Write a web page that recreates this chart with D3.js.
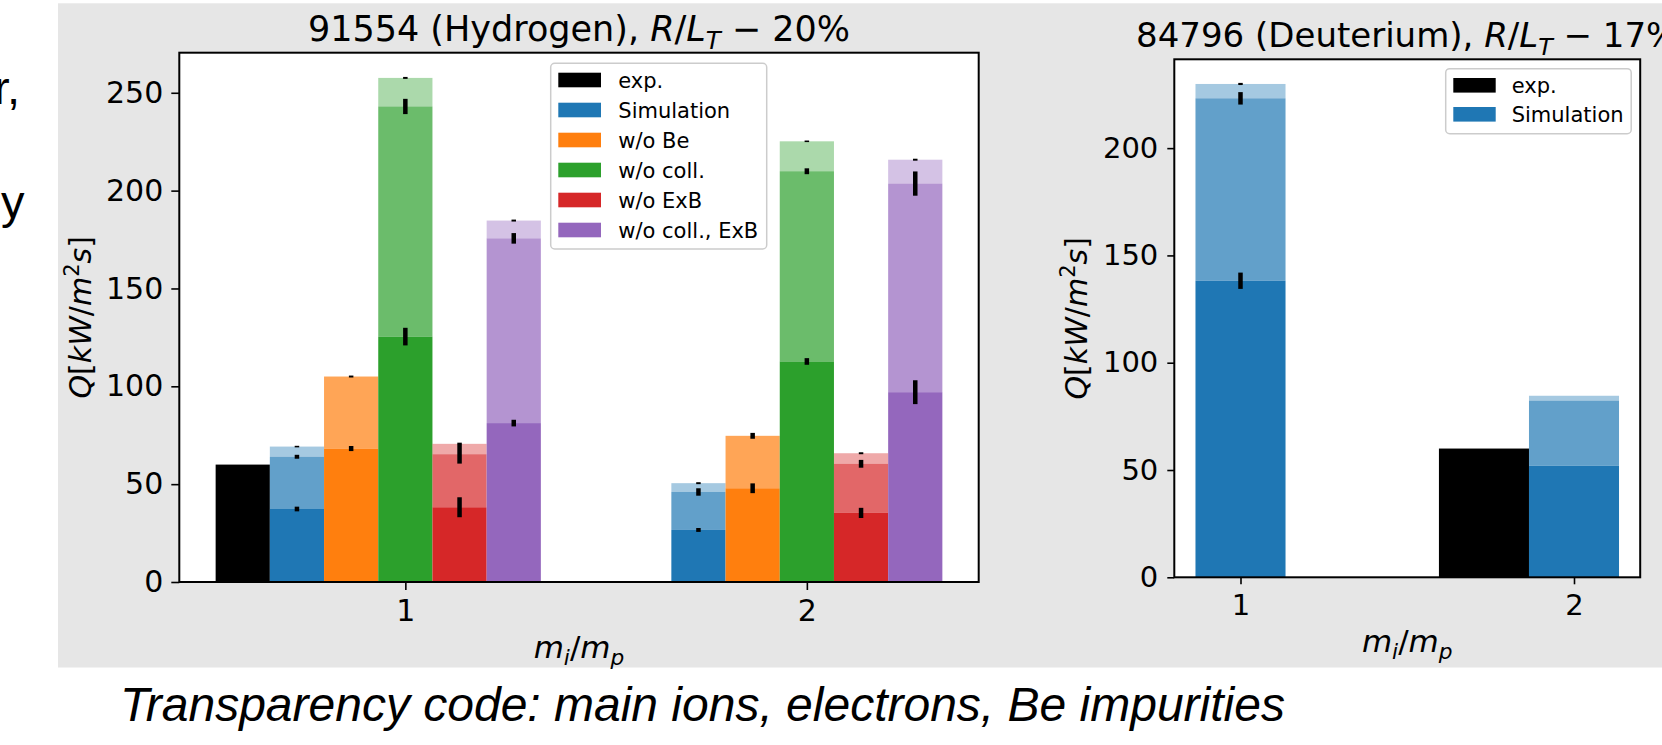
<!DOCTYPE html>
<html>
<head>
<meta charset="utf-8">
<script src="https://cdn.jsdelivr.net/npm/d3@7"></script>
<style>
  body { margin: 0; background: #ffffff; }
  svg { display: block; }
  text { font-family: "DejaVu Sans", sans-serif; fill: #000; }
</style>
</head>
<body>
<svg id="fig" width="1662" height="745"></svg>
<script>
// ---------------------------------------------------------------
// Heat flux Q [kW/m^2 s] versus mass ratio m_i/m_p.
// Each simulated bar is a stack: main ions, electrons, Be impurities.
// ---------------------------------------------------------------
const massRatio = [1, 2];
const layerNames = ["main ions", "electrons", "Be impurities"];
const layerAlpha = [1.0, 0.7, 0.4];

const seriesNames = ["exp.", "Simulation", "w/o Be", "w/o coll.", "w/o ExB", "w/o coll., ExB"];
const seriesColors = ["#000000", "#1f77b4", "#ff7f0e", "#2ca02c", "#d62728", "#9467bd"];

// 91554 (Hydrogen): per mass ratio, [ions, electrons, Be] contributions
const hExp = [[60.0], null];
const hSimulation = [[37.3, 26.7, 5.2], [26.6, 19.4, 4.5]];
const hWithoutBe = [[68.2, 36.8], [47.9, 26.8]];
const hWithoutColl = [[125.4, 117.6, 14.6], [112.7, 97.2, 15.3]];
const hWithoutExB = [[38.2, 27.1, 5.3], [35.3, 25.1, 5.4]];
const hWithoutCollExB = [[81.2, 94.4, 9.1], [97.0, 106.6, 12.2]];

// half-widths of the error bars drawn at the top of each layer
const hExpErr = [[0], null];
const hSimulationErr = [[1.2, 1.0, 0.4], [1.0, 1.9, 0.5]];
const hWithoutBeErr = [[1.3, 0.5], [2.5, 1.5]];
const hWithoutCollErr = [[4.5, 3.9, 0.5], [1.7, 1.5, 0.4]];
const hWithoutExBErr = [[5.1, 4.8, 0.6], [2.6, 2.0, 0.5]];
const hWithoutCollExBErr = [[1.7, 2.7, 0.5], [6.1, 6.2, 0.5]];

// 84796 (Deuterium)
const dExp = [null, [60.0]];
const dSimulation = [[138.2, 85.0, 6.7], [52.0, 30.3, 2.3]];
const dExpErr = [null, [0]];
const dSimulationErr = [[3.8, 2.9, 0.5], [0, 0, 0]];

const hTicksY = [0, 50, 100, 150, 200, 250];
const dTicksY = [0, 50, 100, 150, 200];

const svg = d3.select("#fig");

// figure background
svg.append("rect")
  .attr("x", 58).attr("y", 3.3)
  .attr("width", 1662 - 58).attr("height", 667.5 - 3.3)
  .attr("fill", "#e6e6e6");

// mathtext-like rich text built from tspans
function richText(sel, parts, size) {
  let shift = 0;
  parts.forEach(p => {
    const target = p.sub ? size * 0.24 : (p.sup ? -size * 0.4 : 0);
    const t = sel.append("tspan").attr("dy", target - shift).text(p.t);
    shift = target;
    if (p.it) t.attr("font-style", "italic");
    if (p.sub || p.sup) t.attr("font-size", size * 0.7);
  });
}

function drawPanel(p) {
  const g = svg.append("g");

  // data limits (matplotlib style: 5% x margin, 5% headroom)
  let lo = Infinity, hi = -Infinity, top = 0;
  p.series.forEach((s, i) => {
    s.values.forEach((v, j) => {
      if (v == null) return;
      const xc = massRatio[j] + p.offsets[i];
      lo = Math.min(lo, xc - p.barWidth / 2);
      hi = Math.max(hi, xc + p.barWidth / 2);
      top = Math.max(top, d3.sum(v));
    });
  });
  const pad = (hi - lo) * 0.05;
  const x = d3.scaleLinear().domain([lo - pad, hi + pad]).range([p.left, p.right]);
  const y = d3.scaleLinear().domain([0, top * 1.05]).range([p.bottom, p.top]);
  const bw = x(p.barWidth) - x(0);

  g.append("rect")
    .attr("x", p.left).attr("y", p.top)
    .attr("width", p.right - p.left).attr("height", p.bottom - p.top)
    .attr("fill", "#ffffff");

  // stacked layers
  const segs = [];
  p.series.forEach((s, i) => {
    s.values.forEach((v, j) => {
      if (v == null) return;
      const xc = massRatio[j] + p.offsets[i];
      let base = 0;
      v.forEach((val, k) => {
        segs.push({ xc, y0: base, y1: base + val, color: s.color,
                    alpha: s.single ? 1 : layerAlpha[k],
                    err: s.errors[j] ? s.errors[j][k] : 0 });
        base += val;
      });
    });
  });

  g.selectAll("rect.bar").data(segs).join("rect")
    .attr("class", "bar")
    .attr("x", d => x(d.xc) - bw / 2)
    .attr("width", bw)
    .attr("y", d => y(d.y1))
    .attr("height", d => y(d.y0) - y(d.y1))
    .attr("fill", d => d.color)
    .attr("fill-opacity", d => d.alpha);

  // error bars on top of the patches
  g.selectAll("line.err").data(segs.filter(d => d.err > 0)).join("line")
    .attr("class", "err")
    .attr("x1", d => x(d.xc)).attr("x2", d => x(d.xc))
    .attr("y1", d => y(d.y1 - d.err)).attr("y2", d => y(d.y1 + d.err))
    .attr("stroke", "#000").attr("stroke-width", 4.5);

  // axes
  const ya = g.append("g").attr("transform", `translate(${p.left},0)`)
    .call(d3.axisLeft(y).tickValues(p.yTicks).tickFormat(d3.format("d"))
      .tickSize(p.tickLen).tickPadding(p.yPad));
  const xa = g.append("g").attr("transform", `translate(0,${p.bottom})`)
    .call(d3.axisBottom(x).tickValues(massRatio).tickFormat(d3.format("d"))
      .tickSize(p.tickLen).tickPadding(p.xPad));
  [ya, xa].forEach(a => {
    a.select(".domain").remove();
    a.selectAll(".tick line").attr("stroke", "#000").attr("stroke-width", 1.6);
    a.selectAll(".tick text").attr("font-size", p.tickFont)
      .attr("font-family", "DejaVu Sans").attr("fill", "#000");
  });

  // frame
  g.append("rect")
    .attr("x", p.left).attr("y", p.top)
    .attr("width", p.right - p.left).attr("height", p.bottom - p.top)
    .attr("fill", "none").attr("stroke", "#000").attr("stroke-width", 2);

  // title
  const tt = g.append("text")
    .attr("x", (p.left + p.right) / 2).attr("y", p.titleBaseline)
    .attr("text-anchor", "middle").attr("font-size", p.titleFont);
  richText(tt, p.title, p.titleFont);

  // x label
  const xl = g.append("text")
    .attr("x", (p.left + p.right) / 2).attr("y", p.xLabelBaseline)
    .attr("text-anchor", "middle").attr("font-size", 31);
  richText(xl, [{ t: "m", it: 1 }, { t: "i", it: 1, sub: 1 }, { t: "/" },
                { t: "m", it: 1 }, { t: "p", it: 1, sub: 1 }], 31);

  // y label
  const cy = (p.top + p.bottom) / 2;
  const yl = g.append("text")
    .attr("transform", `translate(${p.yLabelX},${cy}) rotate(-90)`)
    .attr("text-anchor", "middle").attr("font-size", 30);
  richText(yl, [{ t: "Q", it: 1 }, { t: "[" }, { t: "kW", it: 1 }, { t: "/" },
                { t: "m", it: 1 }, { t: "2", sup: 1 }, { t: "s", it: 1 }, { t: "]" }], 30);

  // legend
  const L = p.legend;
  const lg = g.append("g");
  lg.append("rect")
    .attr("x", L.x).attr("y", L.y).attr("width", L.w).attr("height", L.h)
    .attr("rx", 4).attr("fill", "#ffffff").attr("fill-opacity", 0.8)
    .attr("stroke", "#cccccc").attr("stroke-width", 1.5);
  p.series.forEach((s, i) => {
    const cyRow = L.firstRow + i * L.rowGap;
    lg.append("rect")
      .attr("x", L.patchX).attr("y", cyRow - 7.3)
      .attr("width", L.patchW).attr("height", 14.6)
      .attr("fill", s.color);
    lg.append("text")
      .attr("x", L.textX).attr("y", cyRow + 7.6)
      .attr("font-size", 21).text(s.name);
  });
}

function makeSeries(names, colors, values, errors) {
  return names.map((n, i) => ({ name: n, color: colors[i], values: values[i],
                                errors: errors[i], single: i === 0 }));
}

// left panel: 91554 (Hydrogen)
const hW = 0.135;
drawPanel({
  left: 179.3, right: 978.7, top: 52.7, bottom: 582,
  series: makeSeries(seriesNames, seriesColors,
    [hExp, hSimulation, hWithoutBe, hWithoutColl, hWithoutExB, hWithoutCollExB],
    [hExpErr, hSimulationErr, hWithoutBeErr, hWithoutCollErr, hWithoutExBErr, hWithoutCollExBErr]),
  barWidth: hW,
  offsets: [-3, -2, -1, 0, 1, 2].map(k => k * hW),
  yTicks: hTicksY,
  tickLen: 8, yPad: 8, xPad: 10, tickFont: 30,
  title: [{ t: "91554 (Hydrogen), " }, { t: "R", it: 1 }, { t: "/" }, { t: "L", it: 1 },
          { t: "T", it: 1, sub: 1 }, { t: " \u2212 20%" }],
  titleFont: 35, titleBaseline: 41,
  xLabelBaseline: 658, yLabelX: 91,
  legend: { x: 550.7, y: 63.3, w: 216, h: 185.7, firstRow: 80, rowGap: 30,
            patchX: 558.3, patchW: 42.7, textX: 618.3 }
});

// right panel: 84796 (Deuterium)
const dW = 0.27;
drawPanel({
  left: 1174.3, right: 1640.2, top: 59.3, bottom: 577.3,
  series: makeSeries(seriesNames.slice(0, 2), seriesColors.slice(0, 2),
    [dExp, dSimulation], [dExpErr, dSimulationErr]),
  barWidth: dW,
  offsets: [-1, 0].map(k => k * dW),
  yTicks: dTicksY,
  tickLen: 7, yPad: 9, xPad: 10, tickFont: 29,
  title: [{ t: "84796 (Deuterium), " }, { t: "R", it: 1 }, { t: "/" }, { t: "L", it: 1 },
          { t: "T", it: 1, sub: 1 }, { t: " \u2212 17%" }],
  titleFont: 34, titleBaseline: 46.7,
  xLabelBaseline: 652, yLabelX: 1087,
  legend: { x: 1445.7, y: 68.7, w: 185.5, h: 65, firstRow: 85.3, rowGap: 29,
            patchX: 1453.3, patchW: 42.4, textX: 1511.7 }
});

// slide text around the figure
const slideFont = '"Liberation Sans", Arial, sans-serif';
svg.append("text").attr("x", -6).attr("y", 104)
  .style("font-family", slideFont).attr("font-size", 47).text("r,");
svg.append("text").attr("x", 1).attr("y", 218)
  .style("font-family", slideFont).attr("font-size", 47).text("y");
svg.append("text").attr("x", 120).attr("y", 721)
  .style("font-family", slideFont).attr("font-style", "italic").attr("font-size", 48)
  .text("Transparency code: main ions, electrons, Be impurities");
</script>
</body>
</html>
